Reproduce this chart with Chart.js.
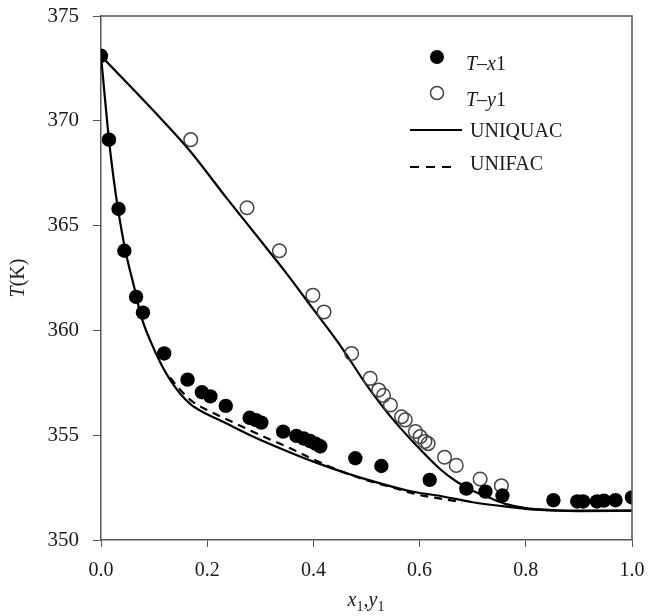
<!DOCTYPE html>
<html>
<head>
<meta charset="utf-8">
<script src="https://cdn.jsdelivr.net/npm/chart.js@4.4.1/dist/chart.umd.min.js"></script>
<style>
  html, body { margin: 0; padding: 0; background: #fff; }
  #wrap { width: 648px; height: 616px; position: relative; }
</style>
</head>
<body>
<div id="wrap"><canvas id="c" width="648" height="616"></canvas></div>
<script>
// ---- Data ----
// Experimental T–x1 (liquid) points
const liquidX = [0.000, 0.015, 0.033, 0.044, 0.066, 0.079, 0.119, 0.163, 0.190, 0.206, 0.235, 0.280, 0.292, 0.302, 0.343, 0.368, 0.382, 0.394, 0.404, 0.413, 0.479, 0.528, 0.619, 0.688, 0.724, 0.756, 0.852, 0.897, 0.908, 0.934, 0.947, 0.969, 1.000];
const liquidT = [373.1, 369.1, 365.8, 363.8, 361.6, 360.85, 358.9, 357.65, 357.05, 356.85, 356.4, 355.83, 355.72, 355.6, 355.17, 354.97, 354.84, 354.72, 354.6, 354.47, 353.9, 353.53, 352.87, 352.45, 352.31, 352.12, 351.9, 351.84, 351.84, 351.84, 351.88, 351.9, 352.03];
// Experimental T–y1 (vapour) points
const vapourY = [0.169, 0.275, 0.336, 0.399, 0.420, 0.472, 0.507, 0.523, 0.532, 0.545, 0.566, 0.573, 0.592, 0.601, 0.610, 0.616, 0.647, 0.669, 0.714, 0.754];
const vapourT = [369.1, 365.85, 363.8, 361.68, 360.88, 358.9, 357.71, 357.16, 356.9, 356.44, 355.88, 355.73, 355.18, 354.93, 354.7, 354.6, 353.95, 353.56, 352.91, 352.59];
// UNIQUAC bubble curve (T vs x1)
const uniquacBubbleX = [0.000, 0.015, 0.024, 0.032, 0.046, 0.065, 0.074, 0.093, 0.115, 0.130, 0.150, 0.170, 0.200, 0.225, 0.287, 0.338, 0.400, 0.463, 0.526, 0.588, 0.639, 0.700, 0.764, 0.827, 0.900, 1.000];
const uniquacBubbleT = [373.1, 369.1, 367.2, 365.8, 363.8, 361.8, 360.8, 359.5, 358.3, 357.65, 356.95, 356.45, 356.0, 355.7, 354.93, 354.37, 353.74, 353.18, 352.7, 352.3, 352.1, 351.8, 351.59, 351.43, 351.38, 351.4];
// UNIQUAC dew curve (T vs y1)
const uniquacDewY = [0.000, 0.100, 0.168, 0.237, 0.300, 0.350, 0.400, 0.450, 0.500, 0.545, 0.600, 0.640, 0.670, 0.700, 0.733, 0.765, 0.800, 0.850, 0.900, 1.000];
const uniquacDewT = [373.1, 370.45, 368.55, 366.3, 364.3, 362.7, 361.0, 359.3, 357.4, 355.9, 354.35, 353.35, 352.78, 352.35, 352.0, 351.7, 351.52, 351.43, 351.4, 351.4];
// UNIFAC bubble curve (visible dashed part)
const unifacX = [0.130, 0.150, 0.170, 0.200, 0.250, 0.300, 0.350, 0.400, 0.450, 0.500, 0.550, 0.600, 0.645, 0.680];
const unifacT = [357.75, 357.15, 356.65, 356.2, 355.6, 355.0, 354.45, 353.85, 353.3, 352.85, 352.5, 352.15, 351.95, 351.8];
// Axis ticks
const xTicks = [0.0, 0.2, 0.4, 0.6, 0.8, 1.0];
const yTicks = [350, 355, 360, 365, 370, 375];

const toPts = (xs, ys) => xs.map((x, i) => ({ x: x, y: ys[i] }));
const SERIF = '"Liberation Serif", "Times New Roman", "DejaVu Serif", serif';
const INK = '#1a1a1a';
const AXIS = '#555555';

function drawRich(ctx, parts, x, y, align) {
  let total = 0;
  parts.forEach(p => {
    ctx.font = (p.italic ? 'italic ' : '') + p.size + 'px ' + SERIF;
    p.w = ctx.measureText(p.t).width;
    total += p.w;
  });
  let cx = align === 'center' ? x - total / 2 : x;
  parts.forEach(p => {
    ctx.font = (p.italic ? 'italic ' : '') + p.size + 'px ' + SERIF;
    ctx.fillText(p.t, cx, y + (p.dy || 0));
    cx += p.w;
  });
}

const decor = {
  id: 'decor',
  afterDatasetsDraw(chart) {
    const ctx = chart.ctx;
    const a = chart.chartArea;
    ctx.save();
    ctx.strokeStyle = AXIS;
    ctx.lineWidth = 1.5;
    ctx.beginPath();
    ctx.moveTo(a.left, a.top);
    ctx.lineTo(a.right, a.top);
    ctx.lineTo(a.right, a.bottom);
    ctx.stroke();
    ctx.restore();
  },
  afterDraw(chart) {
    const ctx = chart.ctx;
    ctx.save();
    ctx.fillStyle = INK;
    ctx.textBaseline = 'alphabetic';
    // x title
    drawRich(ctx, [
      { t: 'x', italic: true, size: 20 },
      { t: '1', size: 14, dy: 5 },
      { t: ',', size: 20 },
      { t: 'y', italic: true, size: 20 },
      { t: '1', size: 14, dy: 5 }
    ], 366, 606, 'center');
    // y title
    ctx.save();
    ctx.translate(24, 278);
    ctx.rotate(-Math.PI / 2);
    drawRich(ctx, [
      { t: 'T', italic: true, size: 20 },
      { t: '(K)', size: 20 }
    ], 0, 0, 'center');
    ctx.restore();

    // legend
    const lx = 437;
    ctx.fillStyle = '#000';
    ctx.beginPath();
    ctx.arc(lx, 57, 7, 0, Math.PI * 2);
    ctx.fill();
    ctx.strokeStyle = '#444';
    ctx.lineWidth = 1.5;
    ctx.beginPath();
    ctx.arc(lx, 93, 6.5, 0, Math.PI * 2);
    ctx.stroke();
    ctx.strokeStyle = '#000';
    ctx.lineWidth = 2.2;
    ctx.beginPath();
    ctx.moveTo(410, 130);
    ctx.lineTo(462, 130);
    ctx.stroke();
    ctx.setLineDash([9, 7]);
    ctx.beginPath();
    ctx.moveTo(410, 167);
    ctx.lineTo(456, 167);
    ctx.stroke();
    ctx.setLineDash([]);
    ctx.fillStyle = INK;
    drawRich(ctx, [
      { t: 'T', italic: true, size: 20 },
      { t: '\u2013', size: 20 },
      { t: 'x', italic: true, size: 20 },
      { t: '1', size: 20 }
    ], 466, 70, 'left');
    drawRich(ctx, [
      { t: 'T', italic: true, size: 20 },
      { t: '\u2013', size: 20 },
      { t: 'y', italic: true, size: 20 },
      { t: '1', size: 20 }
    ], 466, 106, 'left');
    drawRich(ctx, [{ t: 'UNIQUAC', size: 20 }], 470, 137, 'left');
    drawRich(ctx, [{ t: 'UNIFAC', size: 20 }], 470, 170, 'left');
    ctx.restore();
  }
};

new Chart(document.getElementById('c'), {
  type: 'scatter',
  data: {
    datasets: [
      {
        label: 'T-x1',
        data: toPts(liquidX, liquidT),
        pointRadius: 7.2,
        pointBackgroundColor: '#000',
        pointBorderColor: '#000',
        pointBorderWidth: 0,
        showLine: false
      },
      {
        label: 'T-y1',
        data: toPts(vapourY, vapourT),
        pointRadius: 6.8,
        pointBackgroundColor: 'rgba(255,255,255,0)',
        pointBorderColor: '#444',
        pointBorderWidth: 1.5,
        showLine: false
      },
      {
        label: 'UNIQUAC',
        data: toPts(uniquacBubbleX, uniquacBubbleT),
        showLine: true,
        pointRadius: 0,
        borderColor: '#000',
        borderWidth: 2.2,
        cubicInterpolationMode: 'monotone'
      },
      {
        label: 'UNIQUAC dew',
        data: toPts(uniquacDewY, uniquacDewT),
        showLine: true,
        pointRadius: 0,
        borderColor: '#000',
        borderWidth: 2.2,
        cubicInterpolationMode: 'monotone'
      },
      {
        label: 'UNIFAC',
        data: toPts(unifacX, unifacT),
        showLine: true,
        pointRadius: 0,
        borderColor: '#000',
        borderWidth: 2.2,
        borderDash: [8, 6],
        cubicInterpolationMode: 'monotone'
      }
    ]
  },
  options: {
    responsive: false,
    animation: false,
    layout: { padding: { left: 0, right: 16, top: 16, bottom: 0 } },
    plugins: { legend: { display: false }, tooltip: { enabled: false } },
    scales: {
      x: {
        type: 'linear',
        min: 0, max: 1,
        afterBuildTicks(s) { s.ticks = xTicks.map(v => ({ value: v })); },
        afterFit(s) {
          s.height = 76;
          s.paddingLeft = 0; s.paddingRight = 0; s.paddingTop = 0; s.paddingBottom = 0;
        },
        ticks: {
          color: INK,
          font: { family: SERIF, size: 20 },
          padding: 12,
          maxRotation: 0,
          callback: v => v.toFixed(1)
        },
        grid: { drawOnChartArea: false, tickLength: 7, color: AXIS, tickColor: AXIS },
        border: { color: AXIS, width: 1.5 }
      },
      y: {
        type: 'linear',
        min: 350, max: 375,
        afterBuildTicks(s) { s.ticks = yTicks.map(v => ({ value: v })); },
        afterFit(s) {
          s.width = 101;
          s.paddingLeft = 0; s.paddingRight = 0; s.paddingTop = 0; s.paddingBottom = 0;
        },
        ticks: {
          color: INK,
          font: { family: SERIF, size: 21 },
          padding: 14,
          callback: v => String(v)
        },
        grid: { drawOnChartArea: false, tickLength: 8, color: AXIS, tickColor: AXIS },
        border: { color: AXIS, width: 1.5 }
      }
    }
  },
  plugins: [decor]
});
</script>
</body>
</html>
